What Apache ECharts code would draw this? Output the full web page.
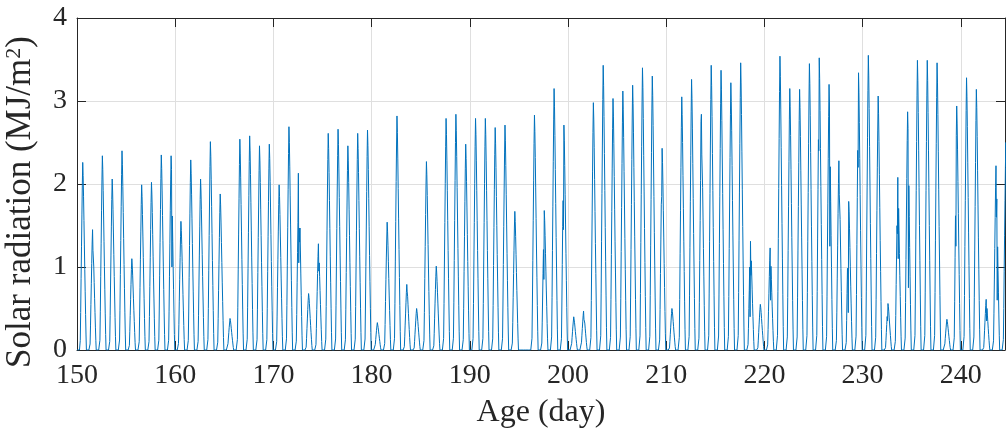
<!DOCTYPE html>
<html>
<head>
<meta charset="utf-8">
<script src="https://cdn.jsdelivr.net/npm/echarts@6/dist/echarts.min.js"></script>
<style>
html,body{margin:0;padding:0;background:#fff;}
#chart{width:1006px;height:435px;}
</style>
</head>
<body>
<div id="chart"></div>
<script>
// Days shown on the x axis (each day drawn as hourly samples)
const firstDay = 150;
// Daily peak solar radiation (MJ/m^2), days 150..244
const dailyPeak = [
  2.26, 1.45, 2.34, 2.06, 2.40, 1.10, 1.99, 2.02, 2.35, 2.34,   // 150-159
  1.55, 2.29, 2.06, 2.51, 1.88, 0.38, 2.54, 2.58, 2.46, 2.48,   // 160-169
  1.99, 2.69, 2.13, 0.68, 1.28, 2.61, 2.66, 2.46, 2.61, 2.65,   // 170-179
  0.33, 1.54, 2.82, 0.79, 0.50, 2.27, 1.01, 2.79, 2.84, 2.48,   // 180-189
  2.79, 2.79, 2.68, 2.71, 1.67, 0.00, 2.83, 1.68, 3.15, 2.71,   // 190-199
  0.40, 0.47, 2.98, 3.43, 3.03, 3.12, 3.19, 3.40, 3.30, 2.43,   // 200-209
  0.50, 3.05, 3.26, 2.84, 3.43, 3.37, 3.22, 3.46, 1.31, 0.55,   // 210-219
  1.23, 3.54, 3.15, 3.14, 3.45, 3.52, 3.20, 2.28, 1.79, 3.34,   // 220-229
  3.55, 3.06, 0.56, 2.08, 2.87, 3.49, 3.49, 3.46, 0.37, 2.94,   // 230-239
  3.28, 3.14, 0.61, 2.22, 2.50                                  // 240-244
];
// Typical hourly shape of one day (fraction of the day's peak), hours 0..23
const hourShape = [
  0, 0, 0, 0, 0, 0, 0, 0, 0.05, 0.20, 0.38, 0.55,
  0.72, 0.88, 1.00, 0.93, 0.82, 0.69, 0.56, 0.43, 0.31, 0.19, 0.08, 0
];
// Cloudy dips: [day, hour, value]
const dips = [
  [151, 15, 1.20], [159, 16, 1.00], [165, 13, 0.27],
  [172, 13, 2.13], [172, 14, 1.05], [172, 15, 1.47], [172, 16, 1.30],
  [174, 15, 0.95], [181, 13, 1.12], [183, 15, 0.70], [194, 15, 1.55],
  [197, 13, 0.85], [199, 12, 1.80], [199, 13, 1.45], [200, 13, 0.30], [200, 15, 0.38],
  [201, 15, 0.37], [209, 13, 1.85], [213, 13, 2.75], [213, 15, 2.35],
  [218, 12, 1.00], [218, 13, 0.40], [218, 15, 0.90], [220, 15, 0.60],
  [225, 13, 2.40], [226, 16, 1.25], [227, 15, 1.87], [228, 12, 0.85], [228, 13, 0.45],
  [229, 13, 2.20], [231, 13, 2.65], [232, 13, 0.35], [233, 13, 1.40], [233, 15, 1.10],
  [234, 16, 0.75], [239, 12, 1.25], [242, 15, 0.35], [243, 15, 1.60], [243, 17, 0.60]
];
// Axis ticks and titles
const xTicks = [150, 160, 170, 180, 190, 200, 210, 220, 230, 240];
const yTicks = [0, 1, 2, 3, 4];
const xTitle = 'Age (day)';
const yTitle = 'Solar radiation (MJ/m{sup|2})';

const dipMap = {};
dips.forEach(d => { dipMap[d[0] + '_' + d[1]] = d[2]; });
const seriesData = [];
dailyPeak.forEach((p, i) => {
  const day = firstDay + i;
  hourShape.forEach((f, h) => {
    const key = day + '_' + h;
    const v = (key in dipMap) ? dipMap[key] : p * f;
    seriesData.push([day + h / 24, v]);
  });
});

const font = 'Liberation Serif, Times New Roman, serif';
const axisColor = '#262626';
const chart = echarts.init(document.getElementById('chart'), null, {renderer: 'canvas'});
chart.setOption({
  animation: false,
  grid: {left: 77, right: 1, top: 18, bottom: 85, containLabel: false, outerBoundsMode: 'none'},
  graphic: [{
    type: 'text', x: 21, y: 202, rotation: Math.PI / 2,
    style: {
      text: yTitle, fill: axisColor, fontFamily: font, fontSize: 35,
      align: 'center', verticalAlign: 'middle',
      rich: {sup: {fontFamily: font, fontSize: 22, fill: axisColor, verticalAlign: 'bottom', padding: [0, 0, 14, 0]}}
    }
  }],
  xAxis: [{
    type: 'value', min: 150, max: 244.5, interval: 10,
    name: xTitle, nameLocation: 'middle', nameGap: 47,
    nameTextStyle: {fontFamily: font, fontSize: 32, color: axisColor},
    axisLine: {show: true, onZero: false, lineStyle: {color: axisColor, width: 1}},
    axisTick: {show: true, inside: true, length: 9, lineStyle: {color: axisColor}},
    axisLabel: {fontFamily: font, fontSize: 28, color: axisColor, margin: 12,
      showMaxLabel: false, formatter: v => xTicks.indexOf(v) >= 0 ? String(v) : ''},
    splitLine: {show: true, lineStyle: {color: '#dfdfdf', width: 1}}
  }, {
    type: 'value', position: 'top', min: 150, max: 244.5, interval: 10,
    axisLine: {show: true, onZero: false, lineStyle: {color: axisColor, width: 1}},
    axisTick: {show: true, inside: true, length: 9, lineStyle: {color: axisColor}},
    axisLabel: {show: false}, splitLine: {show: false}
  }],
  yAxis: [{
    type: 'value', min: 0, max: 4, interval: 1,
    axisLine: {show: true, onZero: false, lineStyle: {color: axisColor, width: 1}},
    axisTick: {show: true, inside: true, length: 9, lineStyle: {color: axisColor}},
    axisLabel: {fontFamily: font, fontSize: 28, color: axisColor, margin: 10,
      formatter: v => yTicks.indexOf(v) >= 0 ? String(v) : ''},
    splitLine: {show: true, lineStyle: {color: '#dfdfdf', width: 1}}
  }, {
    type: 'value', position: 'right', min: 0, max: 4, interval: 1,
    axisLine: {show: true, onZero: false, lineStyle: {color: axisColor, width: 1}},
    axisTick: {show: true, inside: true, length: 9, lineStyle: {color: axisColor}},
    axisLabel: {show: false}, splitLine: {show: false}
  }],
  series: [{
    type: 'line', xAxisIndex: 0, yAxisIndex: 0,
    data: seriesData, showSymbol: false, symbol: 'none', sampling: null,
    clip: true,
    lineStyle: {color: '#0072BD', width: 1},
    z: 3
  }]
});
</script>
</body>
</html>
